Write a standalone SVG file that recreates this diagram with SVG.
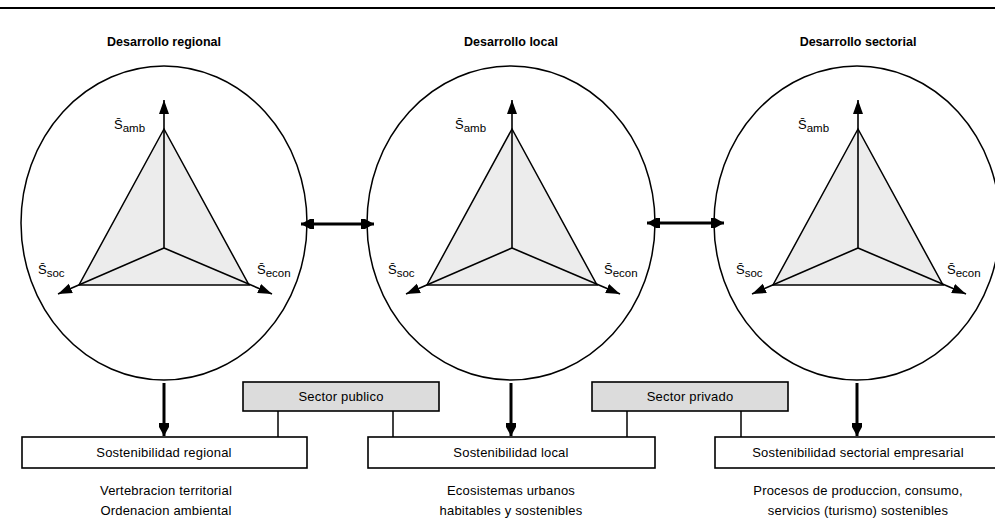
<svg xmlns="http://www.w3.org/2000/svg" width="995" height="519" viewBox="0 0 995 519">
<style>
  .ell{fill:none;stroke:#000;stroke-width:1.5}
  .tri{fill:#ececec;stroke:#000;stroke-width:1.5;stroke-linejoin:miter}
  .axis{stroke:#000;stroke-width:1.6;fill:none}
  .box{fill:#fff;stroke:#000;stroke-width:1.6}
  .gbox{fill:#dcdcdc;stroke:#000;stroke-width:1.6}
  .thick{stroke:#000;stroke-width:3;fill:none}
  .thin{stroke:#000;stroke-width:1.5;fill:none}
  text{font-family:"Liberation Sans",Arial,sans-serif;fill:#000}
  .title{font-size:12.5px;font-weight:bold;text-anchor:middle}
  .lbl{font-size:13px;text-anchor:middle;letter-spacing:0.2px}
  .s{font-size:13px}
  .sub{font-size:11.5px}
</style>
<defs>
  <marker id="ah" markerUnits="userSpaceOnUse" markerWidth="15" markerHeight="12" refX="14" refY="6" orient="auto">
    <path d="M0,1 L14,6 L0,11 z" fill="#000"/>
  </marker>
  <marker id="ahb" markerUnits="userSpaceOnUse" markerWidth="14" markerHeight="12" refX="13" refY="6" orient="auto">
    <path d="M0,1 L4,1 L13,6 L4,11 L0,11 z" fill="#000"/>
  </marker>
  <marker id="ahs" markerUnits="userSpaceOnUse" markerWidth="14" markerHeight="12" refX="13" refY="6" orient="auto-start-reverse">
    <path d="M0,1 L4,1 L13,6 L4,11 L0,11 z" fill="#000"/>
  </marker>
</defs>

<line x1="0" y1="8" x2="995" y2="8" stroke="#000" stroke-width="2"/>

<g id="node-regional">
  <text class="title" x="164" y="46">Desarrollo regional</text>
  <ellipse class="ell" cx="164" cy="223" rx="143" ry="157"/>
  <polygon class="tri" points="164,129 79,285 249,285"/>
  <line class="axis" x1="164" y1="248" x2="164" y2="100" marker-end="url(#ah)"/>
  <line class="axis" x1="164" y1="248" x2="58" y2="294" marker-end="url(#ah)"/>
  <line class="axis" x1="164" y1="248" x2="272" y2="294" marker-end="url(#ah)"/>
  <text x="114" y="129"><tspan class="s">S̄</tspan><tspan class="sub" dy="3">amb</tspan></text>
  <text x="38" y="274"><tspan class="s">S̄</tspan><tspan class="sub" dy="3">soc</tspan></text>
  <text x="257" y="274"><tspan class="s">S̄</tspan><tspan class="sub" dy="3">econ</tspan></text>
</g>

<g id="node-local">
  <text class="title" x="511" y="46">Desarrollo local</text>
  <ellipse class="ell" cx="511" cy="223" rx="144" ry="157"/>
  <polygon class="tri" points="512,129 427,285 597,285"/>
  <line class="axis" x1="512" y1="248" x2="512" y2="100" marker-end="url(#ah)"/>
  <line class="axis" x1="512" y1="248" x2="406" y2="294" marker-end="url(#ah)"/>
  <line class="axis" x1="512" y1="248" x2="620" y2="294" marker-end="url(#ah)"/>
  <text x="455" y="129"><tspan class="s">S̄</tspan><tspan class="sub" dy="3">amb</tspan></text>
  <text x="388" y="274"><tspan class="s">S̄</tspan><tspan class="sub" dy="3">soc</tspan></text>
  <text x="604" y="274"><tspan class="s">S̄</tspan><tspan class="sub" dy="3">econ</tspan></text>
</g>

<g id="node-sectorial">
  <text class="title" x="858" y="46">Desarrollo sectorial</text>
  <ellipse class="ell" cx="857" cy="223" rx="143" ry="157"/>
  <polygon class="tri" points="858,129 773,285 943,285"/>
  <line class="axis" x1="858" y1="248" x2="858" y2="100" marker-end="url(#ah)"/>
  <line class="axis" x1="858" y1="248" x2="752" y2="294" marker-end="url(#ah)"/>
  <line class="axis" x1="858" y1="248" x2="966" y2="294" marker-end="url(#ah)"/>
  <text x="798" y="129"><tspan class="s">S̄</tspan><tspan class="sub" dy="3">amb</tspan></text>
  <text x="736" y="274"><tspan class="s">S̄</tspan><tspan class="sub" dy="3">soc</tspan></text>
  <text x="947" y="274"><tspan class="s">S̄</tspan><tspan class="sub" dy="3">econ</tspan></text>
</g>

<g id="node-sector-publico">
  <rect class="gbox" x="243" y="382" width="196" height="29"/>
  <text class="lbl" x="341" y="401">Sector publico</text>
</g>
<g id="node-sector-privado">
  <rect class="gbox" x="592" y="382" width="196" height="29"/>
  <text class="lbl" x="690" y="401">Sector privado</text>
</g>

<g id="node-sost-regional">
  <rect class="box" x="22" y="437" width="285" height="31"/>
  <text class="lbl" x="164" y="457">Sostenibilidad regional</text>
  <text class="lbl" x="166" y="495">Vertebracion territorial</text>
  <text class="lbl" x="166" y="515">Ordenacion ambiental</text>
</g>
<g id="node-sost-local">
  <rect class="box" x="368" y="437" width="287" height="31"/>
  <text class="lbl" x="511" y="457">Sostenibilidad local</text>
  <text class="lbl" x="511" y="495">Ecosistemas urbanos</text>
  <text class="lbl" x="511" y="515">habitables y sostenibles</text>
</g>
<g id="node-sost-sectorial">
  <rect class="box" x="715" y="437" width="290" height="31"/>
  <text class="lbl" x="858" y="457">Sostenibilidad sectorial empresarial</text>
  <text class="lbl" x="858" y="495">Procesos de produccion, consumo,</text>
  <text class="lbl" x="858" y="515">servicios (turismo) sostenibles</text>
</g>

<g id="connectors">
  <line class="thick" x1="301" y1="224" x2="374" y2="224" marker-start="url(#ahs)" marker-end="url(#ahb)"/>
  <line class="thick" x1="647" y1="223" x2="724" y2="223" marker-start="url(#ahs)" marker-end="url(#ahb)"/>
  <line class="thick" x1="164" y1="383" x2="164" y2="436" marker-end="url(#ahb)"/>
  <line class="thick" x1="511" y1="383" x2="511" y2="436" marker-end="url(#ahb)"/>
  <line class="thick" x1="857" y1="383" x2="857" y2="436" marker-end="url(#ahb)"/>
  <line class="thin" x1="278" y1="411" x2="278" y2="437"/>
  <line class="thin" x1="393" y1="411" x2="393" y2="437"/>
  <line class="thin" x1="627" y1="411" x2="627" y2="437"/>
  <line class="thin" x1="741" y1="411" x2="741" y2="437"/>
</g>
</svg>
